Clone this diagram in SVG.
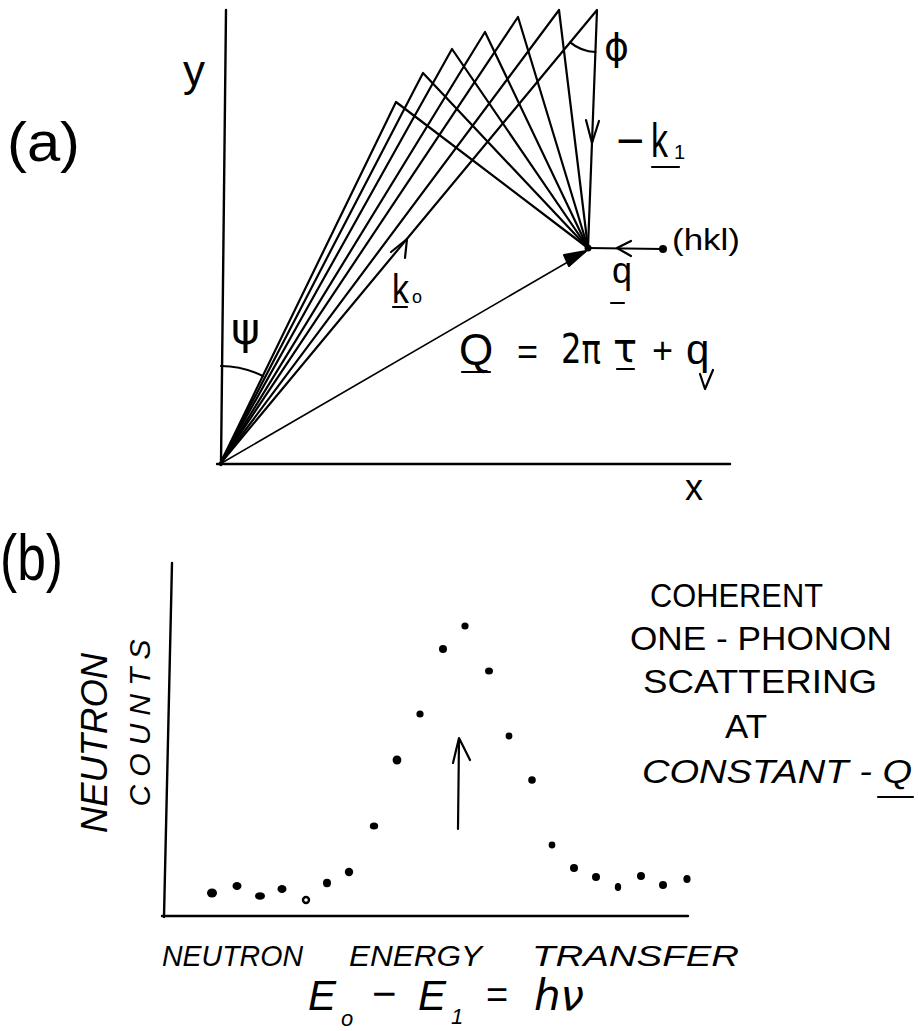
<svg xmlns="http://www.w3.org/2000/svg" width="918" height="1031" viewBox="0 0 918 1031">
<style>
.ln{stroke:#000;stroke-width:2.2;fill:none;stroke-linecap:round;stroke-linejoin:round}
.th{stroke:#000;stroke-width:1.6;fill:none;stroke-linecap:round}
.ax{stroke:#000;stroke-width:2.4;fill:none;stroke-linecap:round}
.t{font-family:"Liberation Sans",Arial,sans-serif;fill:#000}
.g{font-family:"DejaVu Sans","Liberation Sans",sans-serif;fill:#000}
.i{font-style:italic}
.dot{fill:#000}
</style>
<rect width="918" height="1031" fill="#fff"/>

<g id="label-a"><text class="t" x="7" y="161" font-size="56" textLength="73" lengthAdjust="spacingAndGlyphs">(a)</text></g>

<g id="axes-a">
<line class="ax" x1="226" y1="10" x2="221" y2="465"/>
<line class="ax" x1="217" y1="464" x2="730" y2="464"/>
<text class="t" x="183" y="86" font-size="44">y</text>
<text class="t" x="685" y="500" font-size="36">x</text>
</g>

<g id="connectors">
<polyline class="ln" points="220,464 396,102 588,248"/>
<polyline class="ln" points="220,464 423,73 588,248"/>
<polyline class="ln" points="220,464 452,49 588,248"/>
<polyline class="ln" points="220,464 485,32 588,248"/>
<polyline class="ln" points="220,464 518,17 588,248"/>
<polyline class="ln" points="220,464 559,10 588,248"/>
<polyline class="ln" points="220,464 597,10 588,248"/>
<!-- k0 arrowhead -->
<polyline class="ln" points="391,252 407,239 405,258"/>
<!-- -k1 arrowhead -->
<polyline class="ln" points="586,120 592,143 599,121"/>
<!-- Q vector -->
<line class="th" x1="220" y1="464" x2="585" y2="252"/>
<path d="M586,251 L564,255 L569,266 Z" fill="#000" stroke="#000" stroke-width="2" stroke-linejoin="round"/>
<!-- q vector -->
<line class="ln" x1="588" y1="248" x2="663" y2="249"/>
<polyline class="ln" points="631,241 617,248 631,256"/>
<!-- (b) arrow -->
<line class="ln" x1="458" y1="829" x2="459" y2="740"/>
<polyline class="ln" points="453,763 459,738 470,760"/>
</g>

<g id="angles">
<path class="ln" d="M221,366 A98,98 0 0 1 263,376"/>
<path class="ln" d="M595.4,52 A42,42 0 0 1 570.2,42.3"/>
<text class="g" x="231" y="344" font-size="44">ψ</text>
<text class="g" x="604" y="60" font-size="38">ϕ</text>
</g>

<g id="point-P"><circle cx="588" cy="248" r="3.5" fill="#000"/></g>
<g id="point-hkl">
<circle cx="663" cy="249" r="4" fill="#000"/>
<text class="t" x="672" y="250" font-size="30" textLength="68" lengthAdjust="spacingAndGlyphs">(hkl)</text>
</g>

<g id="label-k1">
<text class="t" x="616" y="157" font-size="48">−</text>
<text class="t" x="651" y="157" font-size="48" textLength="17" lengthAdjust="spacingAndGlyphs">k</text>
<text class="t" x="674" y="159" font-size="20">1</text>
<line class="ln" x1="652" y1="167" x2="679" y2="167"/>
</g>

<g id="label-k0">
<text class="t" x="392" y="303" font-size="40" textLength="17" lengthAdjust="spacingAndGlyphs">k</text>
<text class="t" x="412" y="303" font-size="18">o</text>
<line class="ln" x1="393" y1="307" x2="407" y2="307"/>
</g>

<g id="label-q">
<text class="t" x="612" y="283" font-size="36">q</text>
<line class="ln" x1="611" y1="303" x2="624" y2="303"/>
</g>

<g id="equation-Q">
<text class="t" x="459" y="365" font-size="44">Q</text>
<line class="ln" x1="462" y1="372" x2="490" y2="372"/>
<text class="t" x="517" y="364" font-size="36">=</text>
<text class="g" x="561" y="363" font-size="40" textLength="40" lengthAdjust="spacingAndGlyphs">2π</text>
<text class="g" x="613" y="362" font-size="40">τ</text>
<line class="ln" x1="617" y1="369" x2="634" y2="369"/>
<text class="t" x="652" y="363" font-size="36">+</text>
<text class="t" x="686" y="364" font-size="42">q</text>
<polyline class="ln" points="700,374 705,389 713,370"/>
</g>

<g id="label-b"><text class="t" x="0" y="580" font-size="64" textLength="63" lengthAdjust="spacingAndGlyphs">(b)</text></g>

<g id="axes-b">
<line class="ax" x1="172" y1="563" x2="164" y2="917"/>
<line class="ax" x1="162" y1="916" x2="688" y2="916"/>
<text class="t i" transform="translate(107,743) rotate(-90)" font-size="36" text-anchor="middle" textLength="180" lengthAdjust="spacingAndGlyphs">NEUTRON</text>
<text class="t i" transform="translate(150,723) rotate(-90)" font-size="30" text-anchor="middle" textLength="167" lengthAdjust="spacing">COUNTS</text>
</g>

<g id="data-points">
<ellipse class="dot" cx="212" cy="893" rx="5" ry="4.5"/>
<ellipse class="dot" cx="237" cy="886" rx="4.5" ry="4"/>
<ellipse class="dot" cx="260" cy="896" rx="5" ry="3.8"/>
<ellipse class="dot" cx="282" cy="889" rx="4.5" ry="4"/>
<circle cx="306" cy="900" r="3" fill="none" stroke="#000" stroke-width="2.4"/>
<ellipse class="dot" cx="327" cy="883" rx="4" ry="4.2"/>
<ellipse class="dot" cx="349" cy="872" rx="4.2" ry="4.2"/>
<ellipse class="dot" cx="374" cy="826" rx="4.2" ry="3.6"/>
<ellipse class="dot" cx="397" cy="760" rx="4.4" ry="4.6"/>
<circle class="dot" cx="420" cy="714" r="3.6"/>
<circle class="dot" cx="443" cy="649" r="4"/>
<circle class="dot" cx="465" cy="626" r="3.6"/>
<ellipse class="dot" cx="489" cy="671" rx="4" ry="3.5"/>
<circle class="dot" cx="509" cy="736" r="3.4"/>
<circle class="dot" cx="532" cy="780" r="3.8"/>
<circle class="dot" cx="552" cy="845" r="3.4"/>
<circle class="dot" cx="574" cy="868" r="4"/>
<circle class="dot" cx="596" cy="877" r="4"/>
<ellipse class="dot" cx="618" cy="887" rx="3.2" ry="4"/>
<circle class="dot" cx="641" cy="876" r="4"/>
<circle class="dot" cx="663" cy="885" r="4"/>
<ellipse class="dot" cx="687" cy="879" rx="3.6" ry="4"/>
</g>

<g id="caption-right">
<text class="t" x="650" y="607" font-size="34" textLength="173" lengthAdjust="spacingAndGlyphs">COHERENT</text>
<text class="t" x="630" y="650" font-size="34" textLength="262" lengthAdjust="spacingAndGlyphs">ONE - PHONON</text>
<text class="t" x="643" y="693" font-size="34" textLength="234" lengthAdjust="spacingAndGlyphs">SCATTERING</text>
<text class="t" x="725" y="738" font-size="34" textLength="42" lengthAdjust="spacingAndGlyphs">AT</text>
<text class="t i" x="642" y="783" font-size="34" textLength="270" lengthAdjust="spacingAndGlyphs">CONSTANT - Q</text>
<line class="ln" x1="878" y1="797" x2="913" y2="797"/>
</g>

<g id="caption-bottom">
<text class="t i" x="162" y="966" font-size="30" textLength="141" lengthAdjust="spacingAndGlyphs">NEUTRON</text>
<text class="t i" x="349" y="966" font-size="30" textLength="133" lengthAdjust="spacingAndGlyphs">ENERGY</text>
<text class="t i" x="532" y="966" font-size="30" textLength="207" lengthAdjust="spacingAndGlyphs">TRANSFER</text>
<text class="t i" x="308" y="1010" font-size="42">E</text>
<text class="t i" x="341" y="1026" font-size="22">o</text>
<text class="t" x="372" y="1008" font-size="42">−</text>
<text class="t i" x="418" y="1010" font-size="42">E</text>
<text class="t i" x="451" y="1024" font-size="22">1</text>
<text class="t" x="486" y="1008" font-size="38">=</text>
<text class="g i" x="534" y="1010" font-size="42">hν</text>
</g>
</svg>
